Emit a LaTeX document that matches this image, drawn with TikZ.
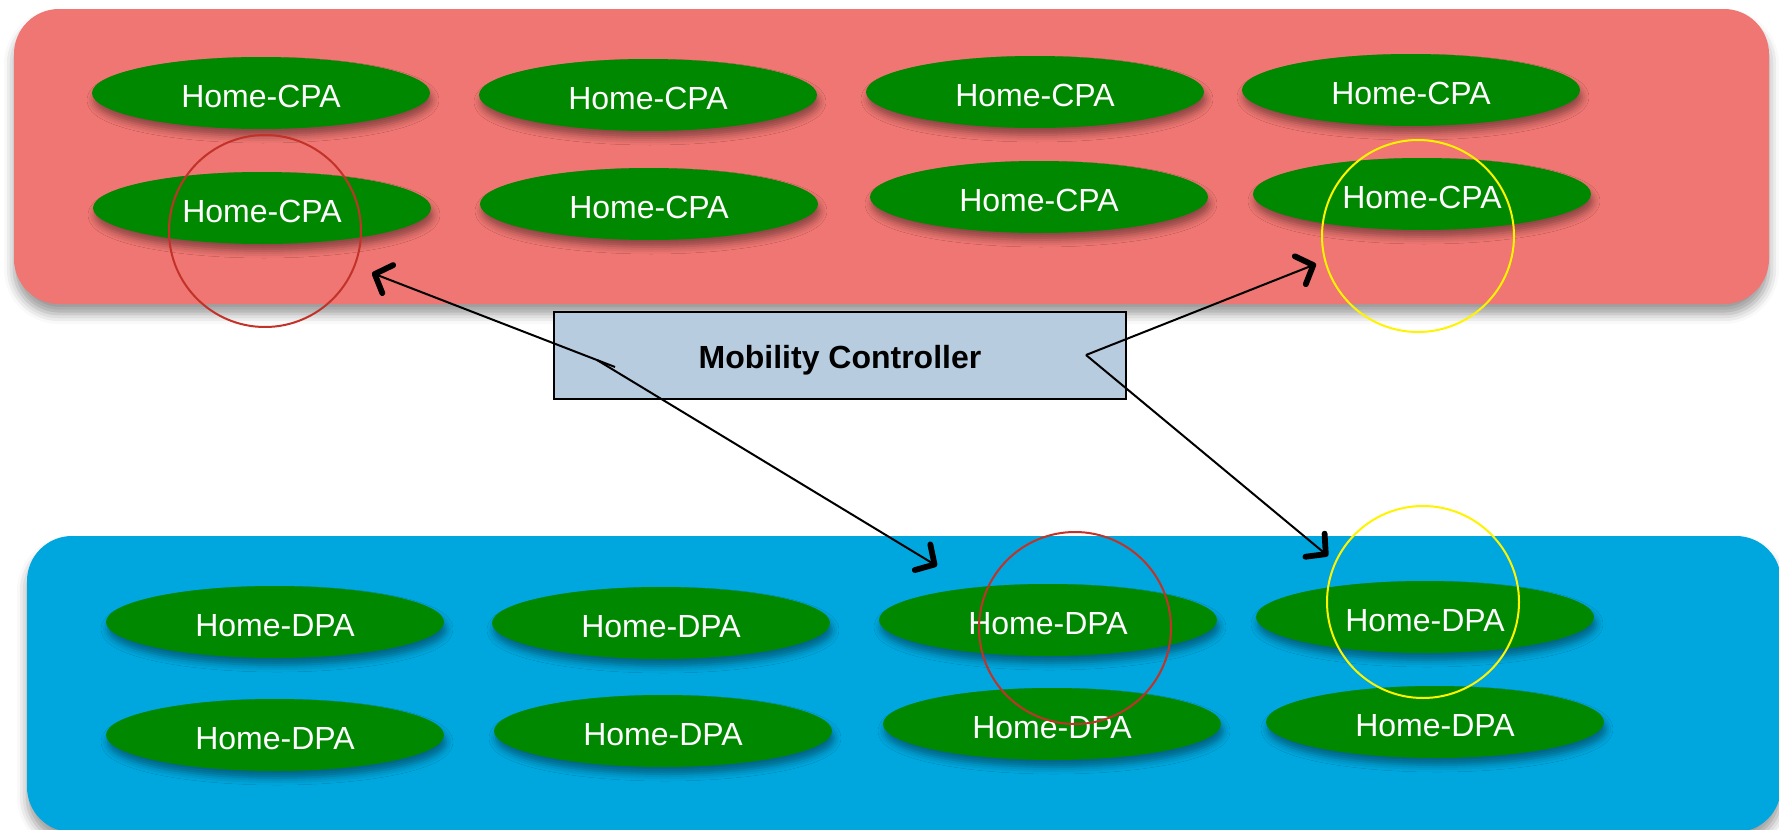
\documentclass[tikz,border=0pt]{standalone}
\usepackage{fontspec}
\setmainfont{Liberation Sans}
\usetikzlibrary{shapes.geometric,shadows.blur,arrows.meta}
\definecolor{panelred}{RGB}{239,118,114}
\definecolor{panelblue}{RGB}{0,167,222}
\definecolor{agentgreen}{RGB}{0,137,0}
\definecolor{ctrlfill}{RGB}{184,204,224}
\definecolor{markred}{RGB}{194,50,40}
\definecolor{markyellow}{RGB}{255,244,0}
\begin{document}
\begin{tikzpicture}[x=0.5pt,y=-0.5pt,
  panel/.style={rounded corners=22.5pt,
    blur shadow={shadow xshift=0pt, shadow yshift=-5pt, shadow blur radius=5pt, shadow opacity=40}},
  agent/.style={ellipse, fill=agentgreen, minimum width=169pt, minimum height=36pt,
    inner sep=0pt, text=white, font=\fontsize{16}{19}\selectfont,
    text height=14pt, text depth=0pt,
    blur shadow={shadow xshift=1pt, shadow yshift=-3.5pt, shadow blur radius=3.5pt, shadow opacity=40}},
  ctrl/.style={draw=black, line width=1pt, fill=ctrlfill, minimum width=286pt,
    minimum height=43.5pt, inner sep=0pt, font=\fontsize{16}{19}\selectfont\bfseries,
    text height=13pt, text depth=0pt},
  marker/.style={circle, draw=#1, line width=1pt, minimum size=96pt, inner sep=0pt},
  link/.style={line width=1pt, draw=black,
    -{Straight Barb[length=7pt, width=15pt, line width=2.9pt, round]}}
]
\useasboundingbox (0,0) rectangle (1779,830);

% control plane and data plane areas
\path[panel, fill=panelred] (14,9) rectangle (1769,304);
\path[panel, fill=panelblue] (27,536) rectangle (1781,832);

% control plane agents
\node[agent] (c11) at (261,93)  {Home-CPA};
\node[agent] (c12) at (648,95)  {Home-CPA};
\node[agent] (c13) at (1035,92) {Home-CPA};
\node[agent] (c14) at (1411,90) {Home-CPA};
\node[agent] (c21) at (262,208) {Home-CPA};
\node[agent] (c22) at (649,204) {Home-CPA};
\node[agent] (c23) at (1039,197) {Home-CPA};
\node[agent] (c24) at (1422,194) {Home-CPA};

% data plane agents
\node[agent] (d11) at (275,622)  {Home-DPA};
\node[agent] (d12) at (661,623)  {Home-DPA};
\node[agent] (d13) at (1048,620) {Home-DPA};
\node[agent] (d14) at (1425,617) {Home-DPA};
\node[agent] (d21) at (275,735)  {Home-DPA};
\node[agent] (d22) at (663,731)  {Home-DPA};
\node[agent] (d23) at (1052,724) {Home-DPA};
\node[agent] (d24) at (1435,722) {Home-DPA};

% controller
\node[ctrl] (mc) at (840,355.5) {Mobility Controller};

% connector end points
\coordinate (jl)  at (597,360);
\coordinate (jlt) at (615,367);
\coordinate (jr)  at (1086,355);
\coordinate (tipA) at (372,273);
\coordinate (tipB) at (937,566);
\coordinate (tipC) at (1316,264);
\coordinate (tipD) at (1328,556);

\draw[link] (jlt) -- (tipA);
\draw[link] (jl) -- (tipB);
\draw[link] (jr) -- (tipC);
\draw[link] (jr) -- (tipD);

% highlighted anchors
\node[marker=markred] (mcpa) at (265,231) {};
\node[marker=markred] (mdpa) at (1075,628) {};
\node[marker=markyellow] (ycpa) at (1418,236) {};
\node[marker=markyellow] (ydpa) at (1423,602) {};
\end{tikzpicture}
\end{document}
